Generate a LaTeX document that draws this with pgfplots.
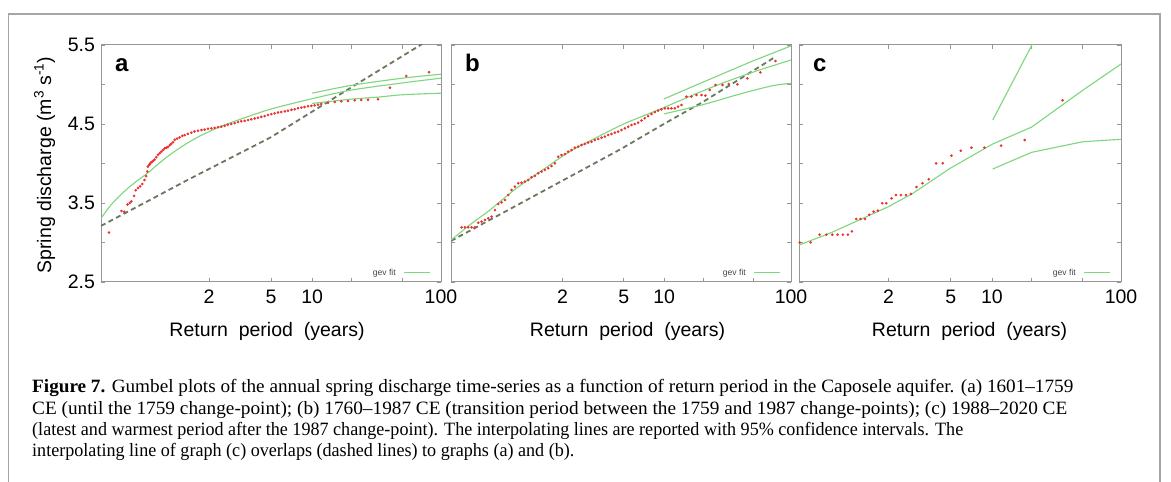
\documentclass[border=0pt]{standalone}
\usepackage{pgfplots}
\pgfplotsset{compat=1.18}
\usepackage{fontspec}
\usepackage{graphicx}
\setmainfont{Liberation Sans}
\newfontfamily\capfont[Ligatures=TeX]{Liberation Serif}
\definecolor{framegray}{RGB}{150,150,150}
\definecolor{outergray}{RGB}{165,165,165}
\definecolor{ptred}{RGB}{238,45,45}
\definecolor{gevgreen}{RGB}{125,215,125}
\definecolor{dashgray}{RGB}{105,120,95}
\definecolor{legtext}{RGB}{70,70,70}
\newcommand\capsize{\capfont\fontsize{18.8bp}{21bp}\selectfont}
\newcommand\capline[4]{%
  \node[anchor=base west, inner sep=0] at (#1,#2) {\resizebox{#3bp}{\height}{\capsize #4}};}
% line whose scale follows that of a reference line: #3 width of ref line, #4 ref text, #5 text
\newcommand\caplinerel[5]{%
  \node[anchor=base west, inner sep=0] at (#1,#2) {\sbox0{\capsize #4}\sbox2{\capsize #5}%
    \resizebox{\dimexpr #3bp*\wd2/\wd0\relax}{\height}{\usebox2}};}
\pgfplotsset{
  gumbel/.style={
    scale only axis, anchor=south west, height=237bp,
    ymin=2.5, ymax=5.5, xmax=4.6001,
    xtick={0.366513,1.499940,2.250367,2.970195,3.901939,4.600149},
    xticklabels={2,5,10,,,100},
    ytick={2.5,3,3.5,4,4.5,5,5.5},
    tick align=inside, major tick length=4bp,
    xtick pos=both, ytick pos=both,
    axis line style={draw=framegray, line width=1bp},
    tick style={framegray, line width=0.8bp},
    ticklabel style={font=\fontsize{19.5bp}{22bp}\selectfont},
    xticklabel style={yshift=-4.5bp},
    yticklabel style={xshift=-2.5bp},
    /pgf/number format/assume math mode=true,
    clip=true,
  },
  pts/.style={only marks, mark=*, mark size=1.1bp, color=ptred, mark options={draw=ptred, fill=ptred}},
  gev/.style={gevgreen, line width=1.1bp, no marks},
  dsh/.style={dashgray, line width=1.8bp, dash pattern=on 5bp off 3.5bp, no marks},
}
\newcommand\gevlegend{%
  \node[anchor=east, inner sep=0, font=\fontsize{8.6bp}{10bp}\selectfont, text=legtext] at ([xshift=-45bp,yshift=9bp]rel axis cs:1,0) {gev fit};
  \draw[gevgreen, line width=1bp] ([xshift=-37bp,yshift=9bp]rel axis cs:1,0) -- ([xshift=-11bp,yshift=9bp]rel axis cs:1,0);}
\begin{document}
\begin{tikzpicture}[x=1bp,y=1bp]
\useasboundingbox (0,0) rectangle (1171,482);
\fill[white] (0,0) rectangle (1171,482);
\draw[outergray, line width=1.3bp] (8.3,-2) -- (8.3,468) -- (1160,468) -- (1160,-2);

% ---------------- panel a
\begin{axis}[gumbel, at={(101bp,200bp)}, width=340bp, xmin=-1.604,
  yticklabels={2.5,,3.5,,4.5,,5.5}]
\addplot[dsh] coordinates {(-1.604,3.21) (0.0,3.80) (1.49,4.33) (3.025,4.99) (4.25,5.51)};
\addplot[gev, smooth] coordinates {(-1.604,3.306) (-1.416,3.48) (-1.173,3.65) (-0.929,3.79) (-0.76,3.875) (-0.443,4.06) (-0.139,4.21) (0.166,4.335) (0.567,4.465) (1.0,4.575) (1.5,4.69) (2.25,4.82) (2.97,4.93) (3.9,5.02) (4.6,5.08)};
\addplot[gev, smooth] coordinates {(2.25,4.89) (2.97,4.99) (3.9,5.08) (4.6,5.13)};
\addplot[gev, smooth] coordinates {(2.25,4.76) (2.97,4.815) (3.45,4.84) (3.9,4.87) (4.6,4.89)};
\addplot[pts] coordinates {
(-1.458,3.125) (-1.23,3.40) (-1.18,3.39) (-1.12,3.48) (-1.08,3.50) (-1.05,3.52) (-1.00,3.59)
(-0.97,3.66) (-0.93,3.69) (-0.89,3.71) (-0.85,3.74) (-0.81,3.79) (-0.78,3.84) (-0.76,3.90)
(-0.747,3.96) (-0.73,3.98) (-0.716,3.99) (-0.695,4.01) (-0.674,4.02) (-0.65,4.035) (-0.625,4.05)
(-0.595,4.08) (-0.564,4.11) (-0.533,4.13) (-0.503,4.15) (-0.473,4.17) (-0.443,4.19) (-0.41,4.20)
(-0.382,4.21) (-0.35,4.23) (-0.321,4.25) (-0.29,4.27) (-0.26,4.30) (-0.215,4.315) (-0.169,4.33)
(-0.12,4.35) (-0.078,4.36) (-0.02,4.375) (0.044,4.39) (0.10,4.405) (0.166,4.415) (0.23,4.425)
(0.287,4.43) (0.35,4.44) (0.409,4.445) (0.47,4.45) (0.531,4.46) (0.59,4.465) (0.652,4.475)
(0.71,4.49) (0.774,4.50) (0.835,4.51) (0.896,4.525) (0.955,4.535) (1.017,4.54) (1.08,4.55)
(1.139,4.56) (1.20,4.57) (1.261,4.58) (1.32,4.59) (1.382,4.60) (1.443,4.614) (1.504,4.625)
(1.565,4.635) (1.625,4.645) (1.686,4.652) (1.75,4.66) (1.808,4.669) (1.87,4.68) (1.930,4.686)
(1.99,4.70) (2.051,4.707) (2.11,4.715) (2.173,4.724) (2.235,4.73) (2.295,4.736) (2.356,4.745)
(2.416,4.753) (2.538,4.770) (2.660,4.778) (2.781,4.787) (2.903,4.791) (3.025,4.800) (3.146,4.804)
(3.268,4.808) (3.450,4.812) (3.669,4.960) (3.967,5.108) (4.381,5.154)};
\gevlegend
\end{axis}

% ---------------- panel b
\begin{axis}[gumbel, at={(451bp,200bp)}, width=340bp, xmin=-1.70,
  yticklabels={,,,,,,}]
\addplot[dsh] coordinates {(-1.70,3.02) (1.44,4.18) (2.243,4.50) (2.97,4.78) (4.311,5.35)};
\addplot[gev, smooth] coordinates {(-1.70,3.03) (-1.3,3.25) (-1.0,3.40) (-0.5,3.68) (0,3.92) (0.5,4.15) (1.0,4.33) (1.5,4.50) (2.0,4.64) (2.25,4.71) (2.97,4.92) (3.5,5.06) (4.0,5.18) (4.6,5.31)};
\addplot[gev] coordinates {(2.243,4.816) (2.97,5.03) (3.9,5.30) (4.607,5.49)};
\addplot[gev, smooth] coordinates {(2.243,4.627) (2.97,4.745) (3.5,4.85) (3.9,4.925) (4.3,4.99) (4.607,5.015)};
\addplot[pts] coordinates {
(-1.504,3.192) (-1.442,3.192) (-1.381,3.192) (-1.319,3.192) (-1.257,3.192) (-1.195,3.251)
(-1.134,3.264) (-1.072,3.285) (-1.010,3.306) (-0.948,3.327) (-0.887,3.411) (-0.825,3.487)
(-0.763,3.508) (-0.701,3.538) (-0.640,3.601) (-0.578,3.665) (-0.516,3.707) (-0.454,3.749)
(-0.393,3.757) (-0.331,3.770) (-0.269,3.791) (-0.208,3.825) (-0.146,3.842) (-0.084,3.876)
(-0.022,3.897) (0.039,3.918) (0.101,3.939) (0.163,3.968) (0.225,4.002) (0.286,4.086)
(0.348,4.108) (0.410,4.120) (0.472,4.150) (0.533,4.171) (0.595,4.200) (0.657,4.213)
(0.718,4.234) (0.780,4.247) (0.842,4.264) (0.904,4.276) (0.965,4.297) (1.027,4.310)
(1.089,4.327) (1.150,4.340) (1.212,4.361) (1.274,4.373) (1.336,4.390) (1.397,4.403)
(1.459,4.425) (1.521,4.445) (1.583,4.465) (1.644,4.487) (1.706,4.50) (1.768,4.517)
(1.83,4.545) (1.891,4.572) (1.953,4.60) (2.015,4.627) (2.077,4.65) (2.138,4.669)
(2.200,4.685) (2.262,4.698) (2.323,4.698) (2.385,4.698) (2.447,4.698) (2.508,4.719)
(2.570,4.741) (2.663,4.846) (2.755,4.846) (2.848,4.867) (2.941,4.867) (3.015,4.859)
(3.095,4.930) (3.200,4.994) (3.330,4.994) (3.447,5.006) (3.607,5.002) (3.792,5.078)
(4.033,5.154) (4.311,5.297)};
\gevlegend
\end{axis}

% ---------------- panel c
\begin{axis}[gumbel, at={(799bp,200bp)}, width=322bp, xmin=-1.264,
  yticklabels={,,,,,,}]
\addplot[gev] coordinates {(-1.264,2.968) (-0.706,3.116) (-0.100,3.306) (0.3665,3.454) (0.809,3.622) (1.488,3.939) (2.264,4.247) (2.97,4.46) (3.91,4.93) (4.6,5.259)};
\addplot[gev] coordinates {(2.264,4.55) (2.97,5.49) (3.06,5.61)};
\addplot[gev] coordinates {(2.264,3.930) (2.97,4.141) (3.91,4.276) (4.6,4.306)};
\addplot[pts] coordinates {
(-1.25,3.0) (-1.052,3.002) (-0.888,3.099) (-0.767,3.099) (-0.658,3.099) (-0.561,3.099) (-0.464,3.099)
(-0.373,3.099) (-0.300,3.141) (-0.221,3.297) (-0.143,3.297) (-0.064,3.297) (0.015,3.352)
(0.094,3.390) (0.173,3.403) (0.251,3.496) (0.324,3.496) (0.421,3.559) (0.500,3.601)
(0.591,3.601) (0.682,3.601) (0.773,3.614) (0.876,3.703) (0.985,3.749) (1.100,3.800)
(1.233,4.002) (1.354,4.002) (1.512,4.099) (1.682,4.162) (1.876,4.200) (2.112,4.200)
(2.415,4.226) (2.845,4.297) (3.536,4.800)};
\gevlegend
\end{axis}

% ---------------- labels
\begin{scope}[font=\fontsize{19.5bp}{22bp}\selectfont]
\node[anchor=base, inner sep=0] at (267,145) {Return~~period~~(years)};
\node[anchor=base, inner sep=0] at (627.5,145) {Return~~period~~(years)};
\node[anchor=base, inner sep=0] at (969.5,145) {Return~~period~~(years)};
\node[anchor=base, inner sep=0, rotate=90] at (51.2,317) {Spring discharge (m\textsuperscript{3} s\textsuperscript{-1})};
\end{scope}
\begin{scope}[font=\fontsize{24bp}{26bp}\selectfont\bfseries]
\node[anchor=base west, inner sep=0] at (115,410) {a};
\node[anchor=base west, inner sep=0] at (465,410) {b};
\node[anchor=base west, inner sep=0] at (813,410) {c};
\end{scope}

% ---------------- caption
\capline{32}{89}{1041}{\textbf{Figure 7.} Gumbel plots of the annual spring discharge time-series as a function of return period in the Caposele aquifer. (a) 1601--1759}
\capline{32}{67.5}{1035}{CE (until the 1759 change-point); (b) 1760--1987 CE (transition period between the 1759 and 1987 change-points); (c) 1988--2020 CE}
\capline{32}{46}{931}{(latest and warmest period after the 1987 change-point). The interpolating lines are reported with 95\% confidence intervals. The}
\caplinerel{32}{25}{931}{(latest and warmest period after the 1987 change-point). The interpolating lines are reported with 95\% confidence intervals. The}{interpolating line of graph (c) overlaps (dashed lines) to graphs (a) and (b).}
\end{tikzpicture}
\end{document}
